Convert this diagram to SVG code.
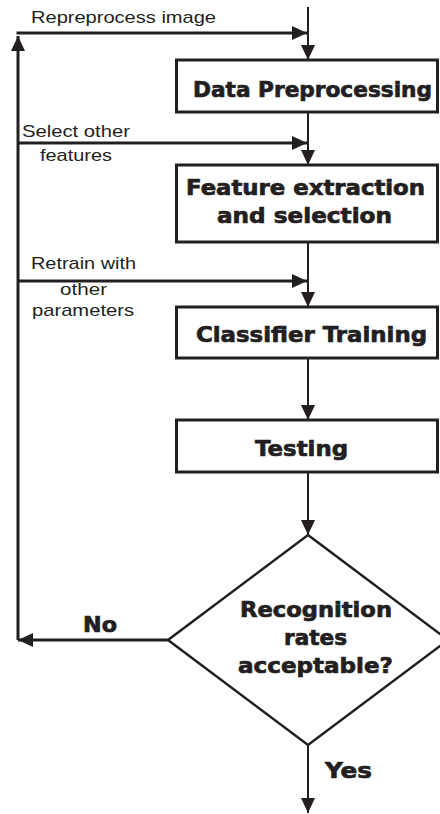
<svg xmlns="http://www.w3.org/2000/svg" width="440" height="814" viewBox="0 0 440 814">
<style>
.box{fill:#fff;stroke:#231f20;stroke-width:3}
.dia{fill:#fff;stroke:#231f20;stroke-width:2.5}
.b{font-family:"DejaVu Sans","Liberation Sans",sans-serif;font-weight:bold;font-size:21px;fill:#231f20;stroke:#231f20;stroke-width:0.7}
.n{font-family:"Liberation Sans",Arial,sans-serif;font-size:17px;fill:#231f20}
.c{fill:none;stroke:#231f20;stroke-width:2}
.k{fill:none;stroke:#231f20;stroke-width:3}
</style>
<defs>
<marker id="ah" markerUnits="userSpaceOnUse" markerWidth="16" markerHeight="14" refX="15" refY="7" orient="auto">
<path d="M0,0 L15,7 L0,14 z" fill="#231f20"/>
</marker>
</defs>
<g id="connectors">
<line class="c" x1="308" y1="7" x2="308" y2="60" marker-end="url(#ah)"/>
<line class="c" x1="308" y1="112" x2="308" y2="165" marker-end="url(#ah)"/>
<line class="c" x1="308" y1="242" x2="308" y2="307" marker-end="url(#ah)"/>
<line class="c" x1="308" y1="358" x2="308" y2="420" marker-end="url(#ah)"/>
<line class="c" x1="308" y1="472" x2="308" y2="535" marker-end="url(#ah)"/>
<line class="c" x1="308" y1="745" x2="308" y2="813" marker-end="url(#ah)"/>
<line class="k" x1="168" y1="640" x2="18" y2="640" marker-end="url(#ah)"/>
<line class="k" x1="18" y1="640" x2="18" y2="36" marker-end="url(#ah)"/>
<line class="k" x1="16.5" y1="33" x2="307" y2="33" marker-end="url(#ah)"/>
<line class="k" x1="18" y1="143" x2="307" y2="143" marker-end="url(#ah)"/>
<line class="k" x1="18" y1="281" x2="307" y2="281" marker-end="url(#ah)"/>
</g>
<g id="labels">
<text class="n" x="31" y="23" textLength="185" lengthAdjust="spacingAndGlyphs">Repreprocess image</text>
<text class="n" x="22" y="137" textLength="108" lengthAdjust="spacingAndGlyphs">Select other</text>
<text class="n" x="40" y="161" textLength="72" lengthAdjust="spacingAndGlyphs">features</text>
<text class="n" x="31" y="269" textLength="105" lengthAdjust="spacingAndGlyphs">Retrain with</text>
<text class="n" x="60" y="295" textLength="47" lengthAdjust="spacingAndGlyphs">other</text>
<text class="n" x="32" y="316" textLength="102" lengthAdjust="spacingAndGlyphs">parameters</text>
<text class="b" x="83" y="632" textLength="34" lengthAdjust="spacingAndGlyphs">No</text>
<text class="b" x="325" y="778" textLength="47" lengthAdjust="spacingAndGlyphs">Yes</text>
</g>
<g id="n1">
<rect class="box" x="176.5" y="60" width="261" height="52"/>
<text class="b" x="193" y="97" textLength="239" lengthAdjust="spacingAndGlyphs">Data Preprocessing</text>
</g>
<g id="n2">
<rect class="box" x="176.5" y="165" width="261" height="77"/>
<text class="b" x="186" y="195" textLength="239" lengthAdjust="spacingAndGlyphs">Feature extraction</text>
<text class="b" x="217" y="223" textLength="175" lengthAdjust="spacingAndGlyphs">and selection</text>
</g>
<g id="n3">
<rect class="box" x="176.5" y="307" width="261" height="51"/>
<text class="b" x="196" y="342" textLength="231" lengthAdjust="spacingAndGlyphs">Classifier Training</text>
</g>
<g id="n4">
<rect class="box" x="176.5" y="420" width="261" height="52"/>
<text class="b" x="255" y="456" textLength="93" lengthAdjust="spacingAndGlyphs">Testing</text>
</g>
<g id="n5">
<polygon class="dia" points="308,535 448,640 308,745 168,640"/>
<text class="b" x="240" y="617" textLength="152" lengthAdjust="spacingAndGlyphs">Recognition</text>
<text class="b" x="284" y="645" textLength="63" lengthAdjust="spacingAndGlyphs">rates</text>
<text class="b" x="238" y="673" textLength="155" lengthAdjust="spacingAndGlyphs">acceptable?</text>
</g>
</svg>
